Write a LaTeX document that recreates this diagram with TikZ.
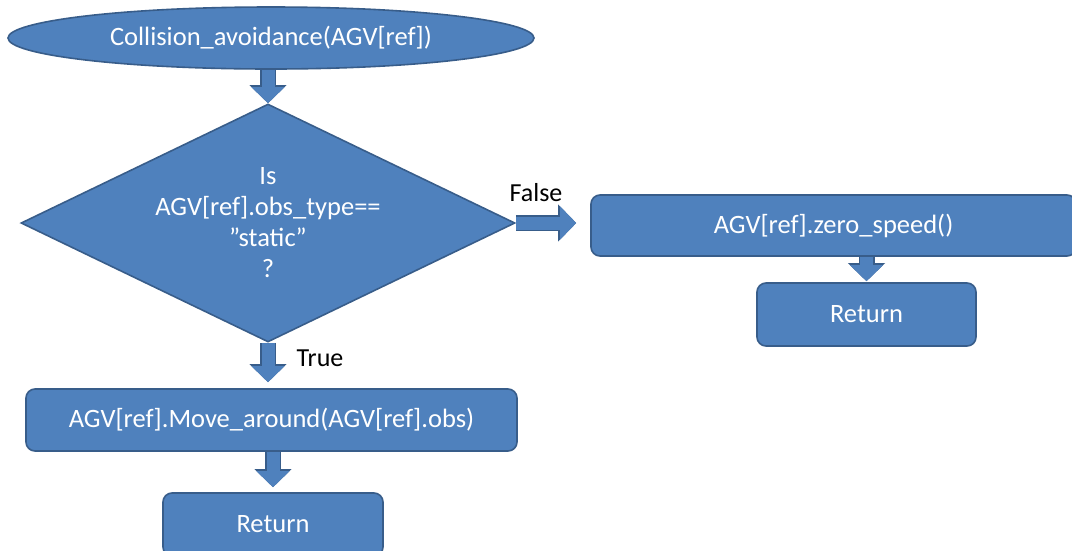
\documentclass[tikz,border=0pt]{standalone}
\usepackage{fontspec}
\setmainfont{Carlito}
\usetikzlibrary{shapes.geometric,arrows.meta}
\definecolor{boxfill}{HTML}{4F81BD}
\definecolor{boxline}{HTML}{385D8A}
\begin{document}
\begin{tikzpicture}[x=1pt,y=-1pt,
  shapebase/.style={fill=boxfill, draw=boxline, line width=1.6pt, text=white,
    font=\fontsize{26.5}{31}\selectfont, inner sep=0pt, align=center},
  procbox/.style={shapebase, rectangle, rounded corners=9pt},
  terminal/.style={shapebase, ellipse},
  decision/.style={shapebase, diamond, aspect=2.07},
  flowarrow/.style={draw=boxfill, line width=13pt,
    -{Triangle[length=16pt,width=32pt]},
    preaction={draw=boxline, line width=16pt,
      -{Triangle[length=18pt,width=36pt]}}},
  edgelabel/.style={font=\fontsize{26}{30}\selectfont, text=black, inner sep=0pt}]

  % page background and extent
  \path[use as bounding box, fill=white] (0,0) rectangle (1072,550);

  % flowchart shapes
  \node[terminal, minimum width=526pt, minimum height=62pt] (start) at (271,38)
    {Collision\_avoidance(AGV[ref])};
  \node[decision, minimum width=494pt, minimum height=238pt] (dec) at (268,223)
    {Is\\AGV[ref].obs\_type==\\”static”\\?};
  \node[procbox, minimum width=485pt, minimum height=61pt] (zero) at (833.5,225.5)
    {AGV[ref].zero\_speed()};
  \node[procbox, minimum width=219pt, minimum height=63pt] (retA) at (866.5,314.5)
    {Return};
  \node[procbox, minimum width=491pt, minimum height=62pt] (move) at (271.5,420)
    {AGV[ref].Move\_around(AGV[ref].obs)};
  \node[procbox, minimum width=220pt, minimum height=63pt] (retB) at (273,524.5)
    {Return};

  % block arrows between the shapes
  \draw[flowarrow] (dec.north |- start.south) -- (dec.north);
  \draw[flowarrow, shorten >=14pt] (dec.east) -- (dec.east -| zero.west);
  \draw[flowarrow, shorten >=6pt] (dec.south) -- (dec.south |- move.north);
  \draw[flowarrow, shorten >=1pt] (retA.north |- zero.south) -- (retA.north);
  \draw[flowarrow, shorten >=5pt] (retB.north |- move.south) -- (retB.north);

  % branch labels
  \node[edgelabel] (lblfalse) at (536,193) {False};
  \node[edgelabel] (lbltrue) at (320,358) {True};
\end{tikzpicture}
\end{document}
